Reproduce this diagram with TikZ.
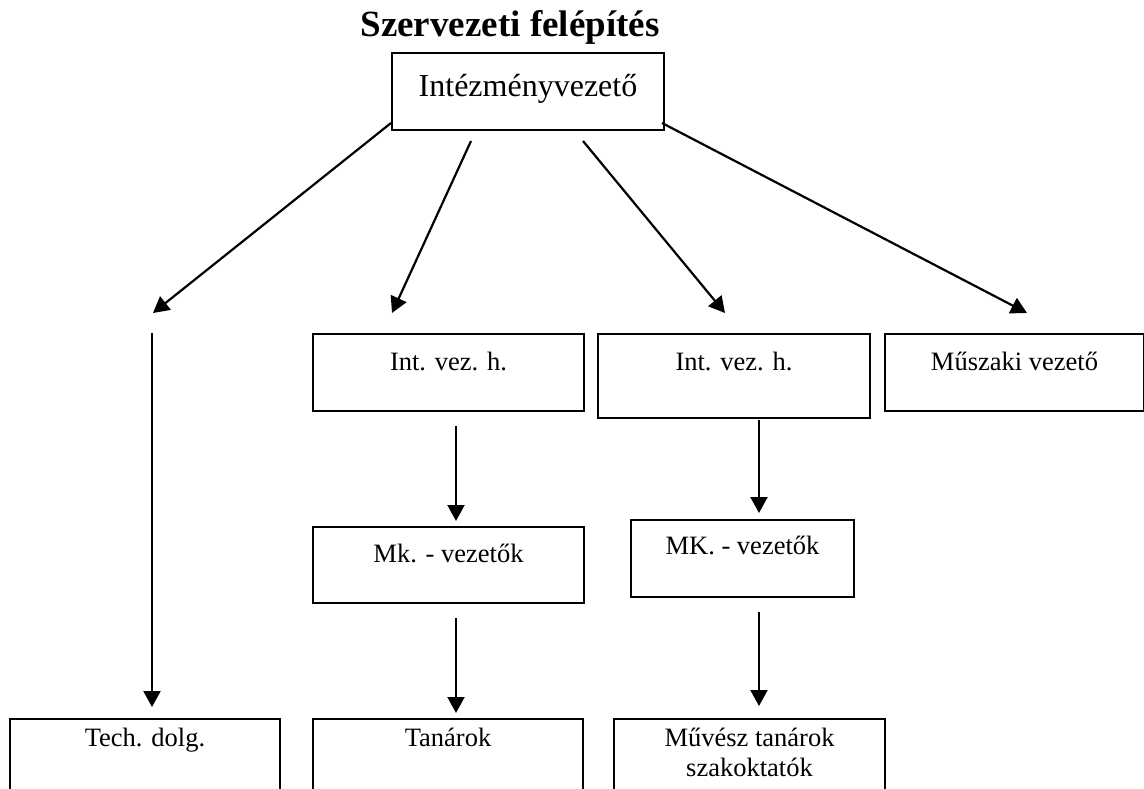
\documentclass[tikz,border=0pt]{standalone}
\usepackage{fontspec}
\setmainfont{Liberation Serif}
\usetikzlibrary{arrows.meta}
\begin{document}
\begin{tikzpicture}[x=1pt,y=-1pt,
  box/.style={draw, line width=2pt, inner sep=0pt, anchor=north west},
  lbl/.style={font=\fontsize{26.5}{30}\selectfont, inner sep=0pt, anchor=base},
  arr/.style={line width=2.2pt, -{Triangle[length=16pt,width=17pt]}}]
\useasboundingbox (0,0) rectangle (1144,789);
\clip (0,0) rectangle (1144,789);

% title
\node[font=\bfseries\fontsize{37}{40}\selectfont, inner sep=0pt, anchor=base] (title) at (510,37) {Szervezeti felépítés};

% boxes
\node[box, minimum width=272pt, minimum height=77pt] (top) at (391,52) {};
\node[box, minimum width=271pt, minimum height=77pt] (int1) at (312,333) {};
\node[box, minimum width=272pt, minimum height=84pt] (int2) at (597,333) {};
\node[box, minimum width=259pt, minimum height=77pt] (musz) at (884,333) {};
\node[box, minimum width=271pt, minimum height=76pt] (mk1) at (312,526) {};
\node[box, minimum width=223pt, minimum height=77pt] (mk2) at (630,519) {};
\node[box, minimum width=270pt, minimum height=100pt] (tech) at (9,718) {};
\node[box, minimum width=270pt, minimum height=100pt] (tan) at (312,718) {};
\node[box, minimum width=271pt, minimum height=100pt] (muv) at (613,718) {};

% labels
\node[lbl, font=\fontsize{32}{36}\selectfont] (ttop) at ([yshift=-45pt]top.north) {Intézményvezető};
\node[lbl] (tint1) at ([yshift=-37pt]int1.north) {Int. vez. h.};
\node[lbl] (tint2) at ([yshift=-37pt]int2.north) {Int. vez. h.};
\node[lbl] (tmusz) at ([yshift=-37pt]musz.north) {Műszaki vezető};
\node[lbl] (tmk1) at ([yshift=-36pt]mk1.north) {Mk. - vezetők};
\node[lbl] (tmk2) at ([yshift=-35pt]mk2.north) {MK. - vezetők};
\node[lbl] (ttech) at ([yshift=-28pt]tech.north) {Tech. dolg.};
\node[lbl] (ttan) at ([yshift=-28pt]tan.north) {Tanárok};
\node[lbl] (tmuv1) at ([yshift=-28pt]muv.north) {Művész tanárok};
\node[lbl] (tmuv2) at ([yshift=-58pt]muv.north) {szakoktatók};

% arrow end points
\coordinate (a1s) at (391,123); \coordinate (a1e) at (153,313);
\coordinate (a2s) at (471,141); \coordinate (a2e) at (392,313);
\coordinate (a3s) at (583,141); \coordinate (a3e) at (725,313);
\coordinate (a4s) at (662,123); \coordinate (a4e) at (1027,313);
\coordinate (tvs) at (152,333); \coordinate (tve) at (152,707);
\coordinate (b1s) at (456,426); \coordinate (b1e) at (456,521);
\coordinate (b2s) at (456,618); \coordinate (b2e) at (456,713);
\coordinate (c1s) at (759,420); \coordinate (c1e) at (759,513);
\coordinate (c2s) at (759,612); \coordinate (c2e) at (759,706);

\draw[arr] (a1s) -- (a1e);
\draw[arr] (a2s) -- (a2e);
\draw[arr] (a3s) -- (a3e);
\draw[arr] (a4s) -- (a4e);
\draw[arr] (tvs) -- (tve);
\draw[arr] (b1s) -- (b1e);
\draw[arr] (b2s) -- (b2e);
\draw[arr] (c1s) -- (c1e);
\draw[arr] (c2s) -- (c2e);
\end{tikzpicture}
\end{document}
